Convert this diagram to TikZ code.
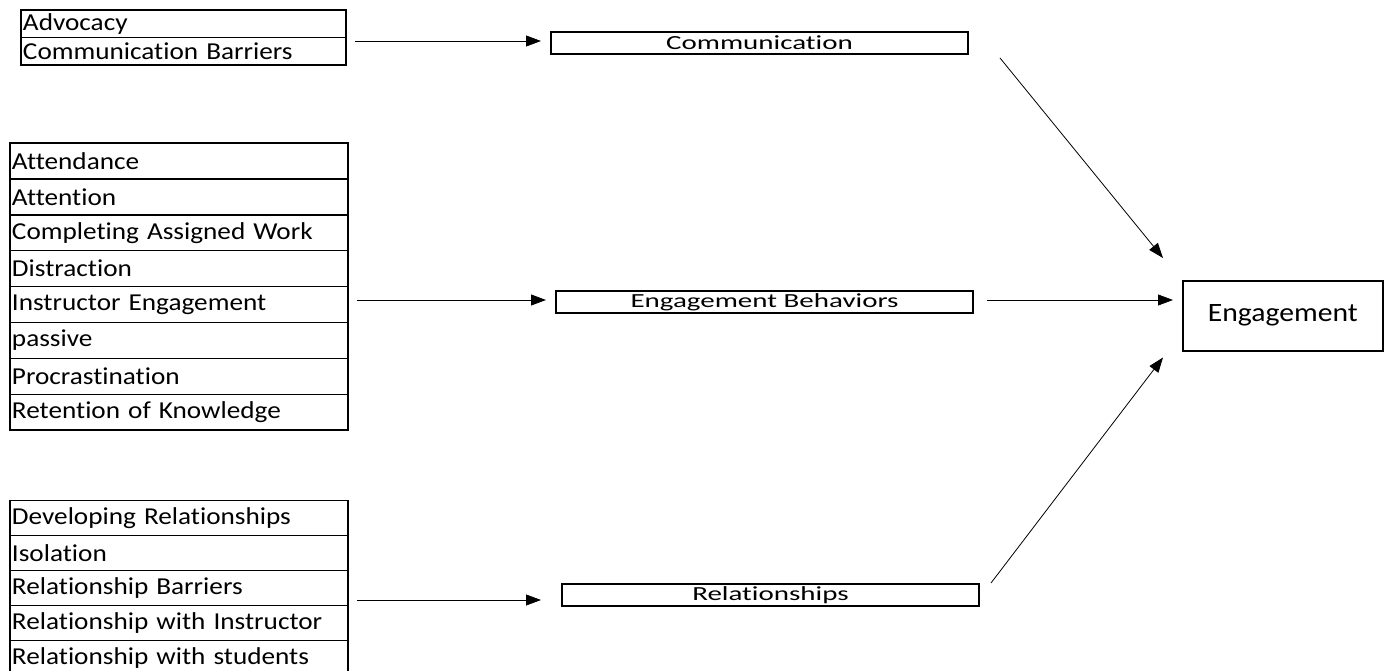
\documentclass[tikz,border=0pt]{standalone}
\usepackage{fontspec}
\setmainfont{Carlito}[FakeStretch=1.12, Ligatures={NoCommon,NoContextual}]
\newfontfamily\midfont{Carlito}[FakeStretch=1.45, Ligatures={NoCommon,NoContextual}]
\usetikzlibrary{arrows.meta}
\tikzset{
  row/.style={draw, line width=1.5pt, anchor=north west, inner xsep=2pt, inner ysep=0pt, outer sep=0pt,
    text width=#1, align=left, font=\fontsize{24.3}{26}\selectfont},
  midbox/.style={draw, line width=1.3pt, anchor=north west, minimum width=417pt, minimum height=22pt,
    inner sep=0pt, outer sep=0pt, font=\midfont\fontsize{20}{21}\selectfont},
  arr/.style={-{Triangle[length=15pt,width=11pt]}, line width=0.8pt},
}
\begin{document}
\begin{tikzpicture}[x=1pt,y=-1pt]
\useasboundingbox (0,0) rectangle (1389,671);
\begin{scope}
\clip (0,0) rectangle (1389,671);
% top list
\node[row=321pt, minimum height=27.5pt] (a1) at (21,10) {Advocacy};
\node[row=321pt, minimum height=27.5pt] (a2) at (21,37.5) {Communication Barriers};
% middle list
\foreach \t [count=\i from 0] in {Attendance,Attention,Completing Assigned Work,Distraction,Instructor Engagement,passive,Procrastination,Retention of Knowledge}{
  \node[row=334pt, minimum height=35.9pt] (b\i) at (10,143+35.9*\i) {\t};
}
% bottom list
\foreach \t [count=\i from 0] in {Developing Relationships,Isolation,Relationship Barriers,Relationship with Instructor,Relationship with students}{
  \node[row=334pt, minimum height=35pt] (c\i) at (10,500.5+35*\i) {\t};
}
\end{scope}
% middle boxes
\node[midbox] (comm) at (551,32) {Communication};
\node[midbox] (beh) at (556,291) {Engagement Behaviors};
\node[midbox] (rel) at (562,584) {Relationships};
% engagement
\node[draw, line width=1.5pt, anchor=north west, minimum width=200pt, minimum height=70pt, inner sep=0pt,
  font=\fontsize{26.5}{28}\selectfont] (eng) at (1182,280) {Engagement};
% arrows
\draw[arr] ([xshift=9pt]a1.east |- 0,41) coordinate (s1) -- ([shift={(-10,0)}]comm.west |- s1);
\draw[arr] ([xshift=9pt]b4.east |- 0,300) coordinate (s2) -- ([shift={(-10,0)}]beh.west |- s2);
\draw[arr] ([xshift=9pt]c3.east |- 0,600) coordinate (s3) -- ([shift={(-21,0)}]rel.west |- s3);
\draw[arr] ([shift={(32,4)}]comm.south east) -- ([shift={(-19,-22)}]eng.north west);
\draw[arr] ([xshift=14pt]beh.east |- 0,300) -- ([xshift=-9pt]eng.west |- 0,300);
\draw[arr] ([shift={(12,-1)}]rel.north east) -- ([shift={(-19,6)}]eng.south west);
\end{tikzpicture}
\end{document}
